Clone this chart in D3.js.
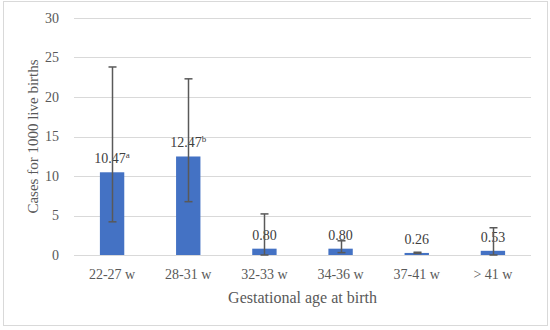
<!DOCTYPE html>
<html>
<head>
<meta charset="utf-8">
<script src="https://cdn.jsdelivr.net/npm/d3@7"></script>
<style>
  body { margin: 0; background: #fff; }
  text { font-family: "Liberation Serif", "DejaVu Serif", serif; }
</style>
</head>
<body>
<div id="chart"></div>
<script>
var categories = ["22-27 w", "28-31 w", "32-33 w", "34-36 w", "37-41 w", "> 41 w"];
var values = [10.47, 12.47, 0.80, 0.80, 0.26, 0.53];
var errLow = [4.2, 6.75, 0.0, 0.3, 0.2, 0.0];
var errHigh = [23.8, 22.3, 5.2, 1.8, 0.35, 3.45];
var labels = ["10.47", "12.47", "0.80", "0.80", "0.26", "0.53"];
var supers = ["a", "b", "", "", "", ""];
var yTicks = [0, 5, 10, 15, 20, 25, 30];

var width = 550,
    height = 330,
    margin = {top: 18, right: 19, bottom: 75, left: 74};

var svg = d3.select("#chart").append("svg")
    .attr("width", width)
    .attr("height", height);

// chart border
svg.append("rect")
    .attr("x", 3.5).attr("y", 1.5)
    .attr("width", 544).attr("height", 324)
    .attr("fill", "#fff")
    .attr("stroke", "#d9d9d9");

var x = d3.scaleBand()
    .domain(categories)
    .range([margin.left, width - margin.right])
    .paddingInner(0.68)
    .paddingOuter(0.34);

var y = d3.scaleLinear()
    .domain([0, 30])
    .range([height - margin.bottom, margin.top]);

// gridlines
svg.append("g")
    .selectAll("line")
    .data(yTicks)
  .enter().append("line")
    .attr("x1", margin.left)
    .attr("x2", width - margin.right)
    .attr("y1", function(d) { return Math.round(y(d)) + 0.5; })
    .attr("y2", function(d) { return Math.round(y(d)) + 0.5; })
    .attr("stroke", "#d9d9d9")
    .attr("stroke-width", 1);

// y axis labels
var yAxis = svg.append("g")
    .attr("transform", "translate(" + (margin.left - 15) + ",0)")
    .call(d3.axisLeft(y).tickValues(yTicks).tickSize(0).tickPadding(0));
yAxis.select(".domain").remove();
yAxis.selectAll("text")
    .attr("fill", "#595959")
    .style("font-size", "14px")
    .style("font-family", "Liberation Serif, serif");

// x axis labels
var xAxis = svg.append("g")
    .attr("transform", "translate(0," + (height - margin.bottom) + ")")
    .call(d3.axisBottom(x).tickSize(0).tickPadding(14));
xAxis.select(".domain").remove();
xAxis.selectAll("text")
    .attr("fill", "#595959")
    .style("font-size", "14px")
    .style("font-family", "Liberation Serif, serif");

// bars
svg.append("g")
    .selectAll("rect")
    .data(values)
  .enter().append("rect")
    .attr("x", function(d, i) { return x(categories[i]); })
    .attr("y", function(d) { return y(d); })
    .attr("width", x.bandwidth())
    .attr("height", function(d) { return y(0) - y(d); })
    .attr("fill", "#4472c4");

// data labels
var lab = svg.append("g")
    .selectAll("text")
    .data(values)
  .enter().append("text")
    .attr("x", function(d, i) { return x(categories[i]) + x.bandwidth() / 2; })
    .attr("y", function(d) { return y(d) - 9; })
    .attr("text-anchor", "middle")
    .attr("fill", "#404040")
    .style("font-size", "14px");
lab.append("tspan")
    .text(function(d, i) { return labels[i]; });
lab.append("tspan")
    .attr("dy", -5)
    .style("font-size", "9px")
    .text(function(d, i) { return supers[i]; });

// error bars
var err = svg.append("g")
    .attr("stroke", "#595959")
    .attr("stroke-width", 1.5);
categories.forEach(function(c, i) {
  var cx = Math.round(x(c) + x.bandwidth() / 2) + 0.5;
  err.append("line")
      .attr("x1", cx).attr("x2", cx)
      .attr("y1", y(errLow[i])).attr("y2", y(errHigh[i]));
  [errLow[i], errHigh[i]].forEach(function(v) {
    err.append("line")
        .attr("x1", cx - 4).attr("x2", cx + 4)
        .attr("y1", y(v)).attr("y2", y(v));
  });
});

// axis titles
svg.append("text")
    .attr("x", (margin.left + width - margin.right) / 2)
    .attr("y", 303)
    .attr("text-anchor", "middle")
    .attr("fill", "#595959")
    .style("font-size", "16px")
    .text("Gestational age at birth");

svg.append("text")
    .attr("transform", "translate(33," + ((margin.top + height - margin.bottom) / 2) + ") rotate(-90)")
    .attr("text-anchor", "middle")
    .attr("dy", "0.35em")
    .attr("fill", "#595959")
    .style("font-size", "15px")
    .text("Cases for 1000 live births");
</script>
</body>
</html>
